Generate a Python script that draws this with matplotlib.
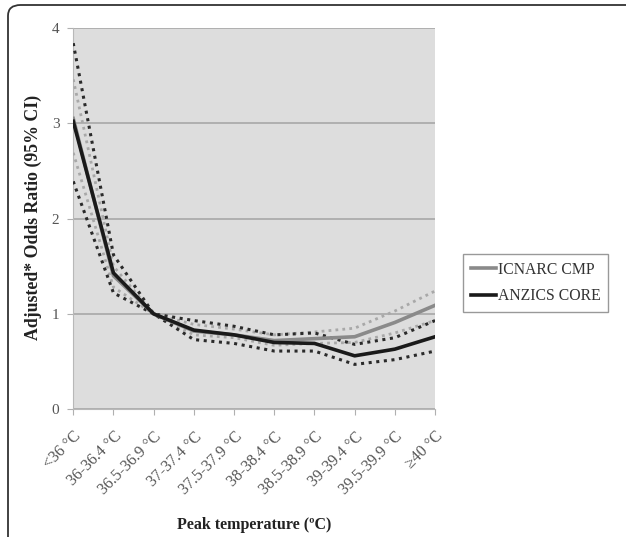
import matplotlib
matplotlib.use("Agg")
import matplotlib.pyplot as plt
from matplotlib.patches import FancyBboxPatch

categories = ["<36 °C", "36-36.4 °C", "36.5-36.9 °C", "37-37.4 °C", "37.5-37.9 °C",
              "38-38.4 °C", "38.5-38.9 °C", "39-39.4 °C", "39.5-39.9 °C", "≥40 °C"]

icnarc = [3.05, 1.40, 1.00, 0.82, 0.78, 0.72, 0.74, 0.76, 0.91, 1.09]
icnarc_lo = [2.69, 1.28, 1.00, 0.78, 0.75, 0.67, 0.69, 0.70, 0.80, 0.93]
icnarc_hi = [3.46, 1.50, 1.00, 0.89, 0.84, 0.78, 0.81, 0.85, 1.03, 1.24]

anzics = [3.02, 1.43, 1.00, 0.83, 0.78, 0.70, 0.69, 0.56, 0.63, 0.76]
anzics_lo = [2.39, 1.22, 1.00, 0.73, 0.69, 0.61, 0.61, 0.47, 0.52, 0.61]
anzics_hi = [3.84, 1.62, 1.00, 0.93, 0.87, 0.78, 0.80, 0.68, 0.75, 0.93]

serif = ["Liberation Serif", "DejaVu Serif"]
plt.rcParams["font.family"] = serif

fig = plt.figure(figsize=(6.26, 5.37), dpi=100)
ax = fig.add_axes([0.117, 0.238, 0.578, 0.710])
ax.set_facecolor("#dddddd")

x = list(range(len(categories)))
dot = (0, (1, 1.5))
ax.plot(x, icnarc_hi, color="#a8a8a8", lw=2, ls=dot, zorder=3)
ax.plot(x, icnarc_lo, color="#a8a8a8", lw=2, ls=dot, zorder=3)
ax.plot(x, anzics_hi, color="#2a2a2a", lw=2.2, ls=dot, zorder=4)
ax.plot(x, anzics_lo, color="#2a2a2a", lw=2.2, ls=dot, zorder=4)
ax.plot(x, icnarc, color="#8a8a8a", lw=2.6, label="ICNARC CMP", zorder=5)
ax.plot(x, anzics, color="#1a1a1a", lw=2.6, label="ANZICS CORE", zorder=6)

ax.set_xlim(0, len(categories) - 1)
ax.set_ylim(0, 4)
ax.set_yticks([0, 1, 2, 3, 4])
ax.yaxis.grid(True, color="#a8a8a8", lw=1.2)
ax.set_axisbelow(True)
for s in ["top", "right"]:
    ax.spines[s].set_visible(False)
for s in ["left", "bottom"]:
    ax.spines[s].set_color("#b8b8b8")
ax.tick_params(axis="both", colors="#b0b0b0", length=4, labelcolor="#555555", labelsize=11)
ax.tick_params(axis="y", pad=6)
ax.tick_params(axis="x", pad=10)
ax.set_xticks(x)
ax.set_xticklabels(categories, rotation=45, ha="right", va="top", rotation_mode="anchor")
for lab in ax.get_xticklabels():
    lab.set_fontsize(11.5)

fig.text(0.053, 0.595, "Adjusted* Odds Ratio (95% CI)", rotation=90, ha="center", va="center",
         fontsize=12.8, fontweight="bold", color="#222222")
fig.text(0.406, 0.022, "Peak temperature (ºC)", ha="center", va="center",
         fontsize=11.5, fontweight="bold", color="#222222")

leg = fig.legend(loc="center left", bbox_to_anchor=(0.740, 0.473), borderaxespad=0,
                 fontsize=11.3, handlelength=1.6, handletextpad=0.1, borderpad=0.5,
                 labelspacing=0.65, fancybox=False, framealpha=1, edgecolor="#999999")
for t in leg.get_texts():
    t.set_color("#333333")

frame = FancyBboxPatch((8 / 626, -30 / 537), 700 / 626, 562 / 537,
                       boxstyle="round,pad=0,rounding_size=0.02", transform=fig.transFigure,
                       fill=False, edgecolor="#333333", lw=1.3, clip_on=False)
fig.patches.append(frame)

fig.savefig("out.png", dpi=100)
